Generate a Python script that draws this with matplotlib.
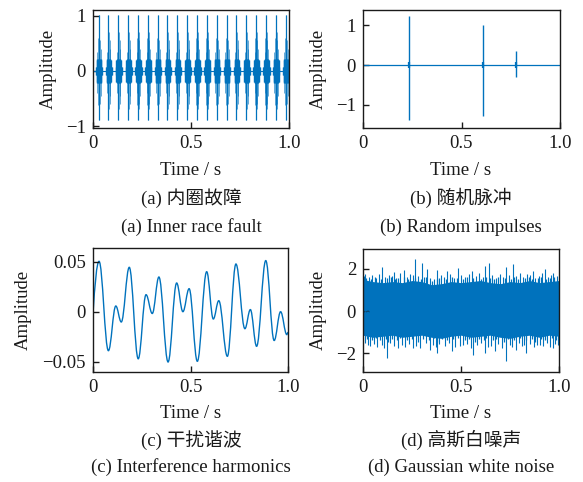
import numpy as np
import matplotlib
matplotlib.use("Agg")
import matplotlib.pyplot as plt
from matplotlib.path import Path
from matplotlib.patches import PathPatch

plt.rcParams['font.family'] = ['Liberation Serif', 'Noto Sans CJK SC']
plt.rcParams['axes.unicode_minus'] = True

BLUE = '#0072BD'

# ---------------- data ----------------
# (a) inner race fault: impulse times and burst profile
fault_times = [0.029, 0.079, 0.129, 0.180, 0.230, 0.280, 0.330, 0.380, 0.431, 0.481,
               0.531, 0.581, 0.631, 0.682, 0.732, 0.782, 0.832, 0.883, 0.933, 0.983]
burst_offsets = [-0.014, -0.010, -0.007, -0.0035, 0.0, 0.0035, 0.007, 0.010, 0.014, 0.018]
burst_upper = [0.08, 0.20, 0.35, 0.60, 1.01, 0.70, 0.55, 0.40, 0.20, 0.08]
burst_lower = [-0.08, -0.20, -0.40, -0.62, -0.88, -0.68, -0.60, -0.45, -0.20, -0.08]
burst_core = 0.22

# (b) random impulses
imp_times = [0.231, 0.608, 0.775]
imp_upper = [1.22, 1.00, 0.35]
imp_lower = [-1.37, -1.27, -0.30]

# (c) interference harmonics: extrema of the curve (time, value)
harm_t = [0.0, 0.031, 0.079, 0.117, 0.145, 0.186, 0.232, 0.272, 0.304, 0.338,
          0.385, 0.429, 0.461, 0.493, 0.535, 0.583, 0.617, 0.645, 0.689, 0.733,
          0.779, 0.807, 0.839, 0.886, 0.929, 0.962, 0.994, 1.0]
harm_v = [-0.002, 0.0507, -0.0387, 0.0060, -0.0100, 0.0447, -0.0468, 0.0173, -0.0015, 0.0350,
          -0.0500, 0.0290, 0.0003, 0.0233, -0.0493, 0.0403, -0.0070, 0.0113, -0.0443, 0.0480,
          -0.0167, 0.0024, -0.0343, 0.0514, -0.0285, 0.0003, -0.0226, -0.0200]

# (d) Gaussian white noise: dense band envelope and visible spikes
band_t = [0.0, 0.05, 0.10, 0.15, 0.20, 0.25, 0.30, 0.35, 0.40, 0.45, 0.50,
          0.55, 0.60, 0.65, 0.70, 0.75, 0.80, 0.85, 0.90, 0.95, 1.0]
band_upper = [1.50, 1.40, 1.35, 1.40, 1.35, 1.45, 1.40, 1.25, 1.30, 1.40, 1.35,
              1.40, 1.45, 1.35, 1.30, 1.40, 1.35, 1.45, 1.35, 1.40, 1.45]
band_lower = [-1.15, -1.25, -1.20, -1.15, -1.25, -1.20, -1.15, -1.25, -1.30, -1.20, -1.15,
              -1.25, -1.20, -1.15, -1.25, -1.30, -1.20, -1.15, -1.25, -1.15, -1.20]
small_up_t = [0.015, 0.04, 0.06, 0.09, 0.12, 0.145, 0.165, 0.18, 0.21, 0.23, 0.265, 0.295,
              0.32, 0.35, 0.375, 0.39, 0.425, 0.455, 0.48, 0.51, 0.53, 0.56, 0.60, 0.63,
              0.65, 0.67, 0.69, 0.725, 0.755, 0.77, 0.79, 0.825, 0.845, 0.86, 0.895, 0.91,
              0.935, 0.955, 0.975]
small_up_v = [1.55, 1.5, 1.6, 1.5, 1.55, 1.6, 1.5, 1.55, 1.6, 1.5, 1.55, 1.5, 1.6, 1.45,
              1.5, 1.55, 1.5, 1.6, 1.55, 1.5, 1.6, 1.55, 1.5, 1.6, 1.55, 1.5, 1.6, 1.55,
              1.5, 1.6, 1.5, 1.55, 1.6, 1.5, 1.55, 1.6, 1.5, 1.55, 1.6]
small_lo_t = [0.02, 0.045, 0.065, 0.085, 0.115, 0.13, 0.15, 0.175, 0.19, 0.225, 0.25, 0.28,
              0.305, 0.335, 0.36, 0.38, 0.405, 0.43, 0.46, 0.485, 0.52, 0.54, 0.57, 0.59,
              0.615, 0.63, 0.665, 0.68, 0.72, 0.74, 0.77, 0.80, 0.83, 0.86, 0.88, 0.91,
              0.93, 0.965, 0.985]
small_lo_v = [-1.35, -1.4, -1.3, -1.4, -1.35, -1.45, -1.35, -1.4, -1.3, -1.4, -1.35, -1.45,
              -1.35, -1.4, -1.3, -1.45, -1.35, -1.4, -1.35, -1.3, -1.4, -1.35, -1.45, -1.35,
              -1.4, -1.3, -1.4, -1.35, -1.45, -1.35, -1.4, -1.3, -1.4, -1.35, -1.45, -1.35,
              -1.4, -1.3, -1.4]
mid_up_t = [0.005, 0.03, 0.045, 0.065, 0.08, 0.11, 0.135, 0.15, 0.17, 0.19, 0.225, 0.24, 0.255,
            0.28, 0.31, 0.34, 0.36, 0.40, 0.415, 0.445, 0.465, 0.50, 0.52, 0.54, 0.575, 0.59,
            0.61, 0.66, 0.68, 0.70, 0.715, 0.745, 0.78, 0.815, 0.835, 0.85, 0.88, 0.90, 0.915,
            0.945, 0.96, 0.99]
mid_up_v = [1.65, 1.6, 1.7, 1.55, 1.75, 1.6, 1.7, 1.65, 1.55, 1.8, 1.6, 1.75, 1.7, 1.65, 1.6,
            1.55, 1.5, 1.7, 1.6, 1.75, 1.55, 1.7, 1.6, 1.75, 1.65, 1.8, 1.6, 1.7, 1.55, 1.75,
            1.6, 1.7, 1.65, 1.6, 1.75, 1.7, 1.55, 1.65, 1.8, 1.6, 1.7, 1.65]
mid_lo_t = [0.01, 0.035, 0.055, 0.07, 0.095, 0.105, 0.14, 0.16, 0.2, 0.215, 0.235, 0.27, 0.29,
            0.32, 0.355, 0.37, 0.39, 0.42, 0.44, 0.47, 0.51, 0.53, 0.55, 0.58, 0.6, 0.64, 0.655,
            0.69, 0.71, 0.75, 0.76, 0.795, 0.81, 0.82, 0.85, 0.87, 0.89, 0.92, 0.94, 0.955,
            0.98, 0.995]
mid_lo_v = [-1.5, -1.65, -1.55, -1.7, -1.6, -1.75, -1.5, -1.65, -1.6, -1.7, -1.55, -1.65, -1.75,
            -1.5, -1.6, -1.7, -1.55, -1.65, -1.5, -1.7, -1.6, -1.55, -1.75, -1.6, -1.5, -1.7,
            -1.65, -1.55, -1.75, -1.6, -1.7, -1.5, -1.65, -1.6, -1.55, -1.7, -1.6, -1.65, -1.5,
            -1.7, -1.55, -1.6]
peak_up_t = [0.012, 0.097, 0.156, 0.207, 0.266, 0.300, 0.326, 0.380, 0.430, 0.486,
             0.554, 0.622, 0.644, 0.732, 0.766, 0.800, 0.868, 0.927, 0.970]
peak_up_v = [1.75, 2.11, 1.84, 1.95, 2.47, 2.27, 2.00, 1.95, 1.92, 2.03,
             1.92, 2.16, 2.27, 2.11, 2.24, 1.80, 1.92, 2.00, 1.80]
peak_lo_t = [0.023, 0.122, 0.181, 0.257, 0.342, 0.380, 0.453, 0.495,
             0.563, 0.622, 0.673, 0.732, 0.783, 0.834, 0.902, 0.970]
peak_lo_v = [-1.60, -2.23, -1.76, -1.76, -1.84, -2.00, -1.92, -1.68,
             -2.07, -2.00, -1.92, -2.39, -1.84, -2.00, -1.60, -1.76]

x_ticks = [0, 0.5, 1.0]
x_ticklabels = ['0', '0.5', '1.0']

# ---------------- figure ----------------
W, H = 583, 482
fig = plt.figure(figsize=(W / 100, H / 100), dpi=100)


def px_axes(x0, y0, x1, y1):
    return fig.add_axes([x0 / W, 1 - y1 / H, (x1 - x0) / W, (y1 - y0) / H])


FS = 13.5
TXT = '#1a1a1a'


def style(ax, ylim, yticks, yticklabels):
    ax.set_xlim(0, 1)
    ax.set_ylim(*ylim)
    ax.set_xticks(x_ticks)
    ax.set_xticklabels(x_ticklabels)
    ax.set_yticks(yticks)
    ax.set_yticklabels(yticklabels)
    ax.tick_params(direction='in', length=4, width=1, labelsize=FS, top=False, right=False,
                   pad=5, colors=TXT)
    for s in ax.spines.values():
        s.set_linewidth(1.0)
        s.set_color(TXT)


axA = px_axes(93, 10, 289, 128)
axB = px_axes(363, 10, 560, 128)
axC = px_axes(93, 248, 288, 372)
axD = px_axes(363, 249, 559, 372)

# (a)
axA.plot([0, 1], [0, 0], color=BLUE, lw=0.8)
ft = np.asarray(fault_times)
offs = np.asarray(burst_offsets)
xs = np.add.outer(ft, offs).ravel()
ups = np.tile(burst_upper, len(ft))
los = np.tile(burst_lower, len(ft))
axA.vlines(xs, los, ups, color=BLUE, lw=0.6, alpha=0.7)
core_up = np.minimum(ups, burst_core)
core_lo = np.maximum(los, -burst_core)
axA.vlines(xs, core_lo, core_up, color=BLUE, lw=1.0)
axA.vlines(ft, np.asarray(burst_lower)[4], np.asarray(burst_upper)[4], color=BLUE, lw=0.9)
style(axA, (-1.03, 1.10), [-1, 0, 1], ['\u22121', '0', '1'])

# (b)
axB.plot([0, 1], [0, 0], color=BLUE, lw=0.9)
axB.vlines(imp_times, imp_lower, imp_upper, color=BLUE, lw=1.0)
axB.vlines(imp_times, np.maximum(imp_lower, -0.07), np.minimum(imp_upper, 0.07), color=BLUE, lw=1.6)
style(axB, (-1.58, 1.38), [-1, 0, 1], ['\u22121', '0', '1'])

# (c) smooth curve through extrema (horizontal tangents at extrema)
verts = [(harm_t[0], harm_v[0])]
codes = [Path.MOVETO]
n = len(harm_t)
for i in range(n - 1):
    t0, v0 = harm_t[i], harm_v[i]
    t1, v1 = harm_t[i + 1], harm_v[i + 1]
    dt = t1 - t0
    if i == 0:
        c1 = (t0 + 0.3 * dt, v0 + 0.55 * (v1 - v0))
    else:
        c1 = (t0 + 0.38 * dt, v0)
    if i == n - 2:
        c2 = (t1 - 0.3 * dt, v1 - 0.3 * (v1 - v0))
    else:
        c2 = (t1 - 0.38 * dt, v1)
    verts += [c1, c2, (t1, v1)]
    codes += [Path.CURVE4, Path.CURVE4, Path.CURVE4]
axC.add_patch(PathPatch(Path(verts, codes), fill=False, edgecolor=BLUE, lw=1.0))
style(axC, (-0.060, 0.064), [-0.05, 0, 0.05], ['\u22120.05', '0', '0.05'])

# (d)
axD.fill_between(band_t, band_lower, band_upper, color=BLUE, lw=0)
axD.vlines(small_up_t, 0, small_up_v, color=BLUE, lw=0.9)
axD.vlines(small_lo_t, small_lo_v, 0, color=BLUE, lw=0.9)
axD.vlines(mid_up_t, 0, mid_up_v, color=BLUE, lw=0.8)
axD.vlines(mid_lo_t, mid_lo_v, 0, color=BLUE, lw=0.8)
axD.vlines(peak_up_t, 0, peak_up_v, color=BLUE, lw=0.8)
axD.vlines(peak_lo_t, peak_lo_v, 0, color=BLUE, lw=0.8)
style(axD, (-2.9, 2.95), [-2, 0, 2], ['\u22122', '0', '2'])


def ftext(x, y, s, **kw):
    fig.text(x / W, 1 - y / H, s, ha='center', va='center', fontsize=FS, color=TXT, **kw)


# labels
for cx in (191, 461):
    ftext(cx, 170, 'Time / s')
for cx in (191, 461):
    ftext(cx, 413, 'Time / s')
ftext(48, 69, 'Amplitude', rotation=90)
ftext(318, 69, 'Amplitude', rotation=90)
ftext(23, 310, 'Amplitude', rotation=90)
ftext(318, 310, 'Amplitude', rotation=90)

ftext(191, 198, '(a) 内圈故障')
ftext(191, 227, '(a) Inner race fault')
ftext(461, 198, '(b) 随机脉冲')
ftext(461, 227, '(b) Random impulses')
ftext(191, 440, '(c) 干扰谐波')
ftext(191, 467, '(c) Interference harmonics')
ftext(461, 440, '(d) 高斯白噪声')
ftext(461, 467, '(d) Gaussian white noise')

fig.savefig('out.png', dpi=100, facecolor='white')
